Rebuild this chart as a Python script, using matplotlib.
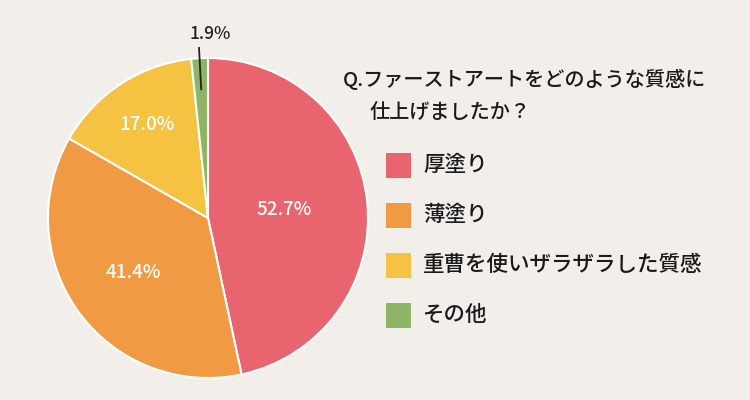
import numpy as np
import matplotlib
matplotlib.use('Agg')
import matplotlib.pyplot as plt
from matplotlib.patches import Rectangle

plt.rcParams['font.family'] = ['Noto Sans CJK JP', 'DejaVu Sans']

labels = ['厚塗り', '薄塗り', '重曹を使いザラザラした質感', 'その他']
values = [52.7, 41.4, 17.0, 1.9]
colors = ['#E8656F', '#F09A43', '#F5C242', '#8DB565']
title_lines = ['Q.ファーストアートをどのような質感に', '仕上げましたか？']

bg = '#F2EEEA'
fig = plt.figure(figsize=(7.5, 4), dpi=100, facecolor=bg)

# pie: centre (208, 218) px, radius 160 px
ax = fig.add_axes([48 / 750, 22 / 400, 320 / 750, 320 / 400])
ax.set_facecolor(bg)
wedges, _ = ax.pie(values, colors=colors, startangle=90, counterclock=False,
                   radius=1.0, wedgeprops=dict(edgecolor='white', linewidth=1.5))
ax.set_xlim(-1, 1)
ax.set_ylim(-1, 1)
ax.set_aspect('equal')
ax.axis('off')

dists = [0.48, 0.58, 0.70]
for w, v, d in zip(wedges[:3], values[:3], dists):
    th = np.deg2rad((w.theta1 + w.theta2) / 2)
    ax.text(d * np.cos(th), d * np.sin(th), f'{v:.1f}%', color='white',
            fontsize=13.5, fontweight='medium', ha='center', va='center')

# small slice label outside with leader line
w = wedges[3]
th = np.deg2rad((w.theta1 + w.theta2) / 2)
ax.plot([0.8 * np.cos(th), 1.07 * np.cos(th)], [0.8 * np.sin(th), 1.07 * np.sin(th)],
        color='#222222', linewidth=1.3, solid_capstyle='butt', clip_on=False)
ax.text(0.015, 1.15, f'{values[3]:.1f}%', color='#222222', fontsize=12.5,
        fontweight='medium', ha='center', va='center', clip_on=False)

# overlay in pixel coords for title & legend
ov = fig.add_axes([0, 0, 1, 1], facecolor='none')
ov.set_xlim(0, 750)
ov.set_ylim(400, 0)
ov.axis('off')

ov.text(343, 79, title_lines[0], fontsize=14.5, fontweight='medium', color='#1a1a1a',
        va='center', ha='left')
ov.text(370, 113, title_lines[1], fontsize=14.5, fontweight='medium', color='#1a1a1a',
        va='center', ha='left')

for i, (lab, c) in enumerate(zip(labels, colors)):
    y = 165 + 50 * i
    ov.add_patch(Rectangle((386, y - 12.5), 25, 25, facecolor=c, edgecolor='none'))
    ov.text(423, y, lab, fontsize=15.5, fontweight='medium', color='#1a1a1a',
            va='center', ha='left')

fig.savefig('out.png', dpi=100, facecolor=bg)
